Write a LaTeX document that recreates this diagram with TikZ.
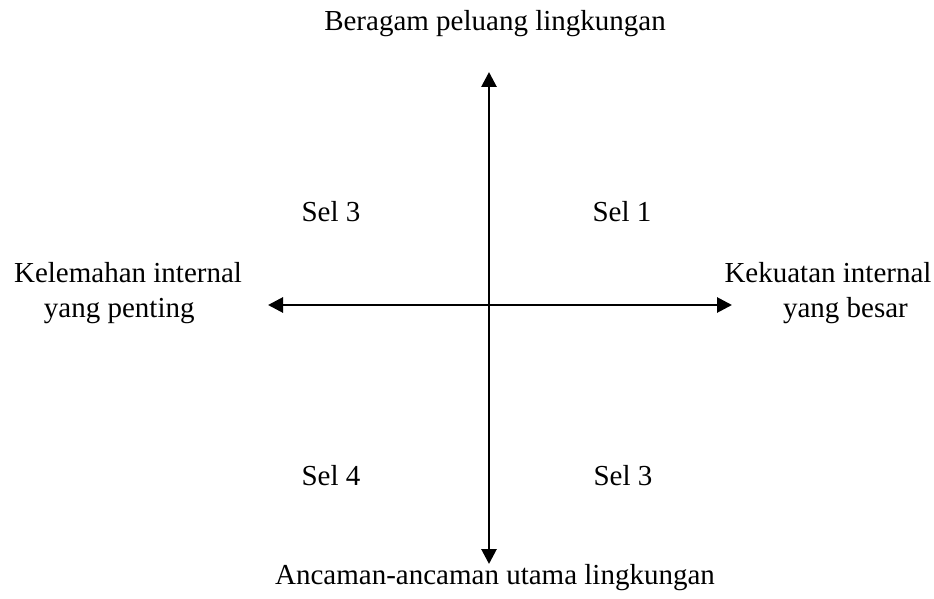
\documentclass[tikz,border=0pt]{standalone}
\usepackage{fontspec}
\setmainfont{Liberation Serif}
\usetikzlibrary{arrows.meta}
\newcommand{\teks}{\fontsize{29}{35}\selectfont}
\tikzset{sumbu/.style={line width=2.8pt,
    {Triangle[length=15pt,width=15pt]}-{Triangle[length=15pt,width=15pt]}},
  label/.style={inner sep=0,font=\teks,align=center},
  sel/.style={inner sep=0,font=\teks}}

\begin{document}
\begin{tikzpicture}[x=1pt,y=-1pt]
\useasboundingbox (0,0) rectangle (934,599);
\coordinate (atas) at (489,72);
\coordinate (bawah) at (489,564);
\coordinate (kiri) at (268,305);
\coordinate (kanan) at (732,305);
\draw[sumbu] (kiri) -- (kanan);
\draw[sumbu] (bawah) -- (atas);
\node[label] (peluang) at (495,24) {Beragam peluang lingkungan};
\node[label] (ancaman) at (495,578) {Ancaman-ancaman utama lingkungan};
\node[label] (kelemahan) at (128,293) {Kelemahan internal\\yang penting\hspace*{0.6em}};
\node[label] (kekuatan) at (828,293) {Kekuatan internal\\\hspace*{1.2em}yang besar};
\node[sel] (selA) at (331,212) {Sel 3};
\node[sel] (selB) at (622,212) {Sel 1};
\node[sel] (selC) at (331,476) {Sel 4};
\node[sel] (selD) at (623,476) {Sel 3};
\end{tikzpicture}
\end{document}
